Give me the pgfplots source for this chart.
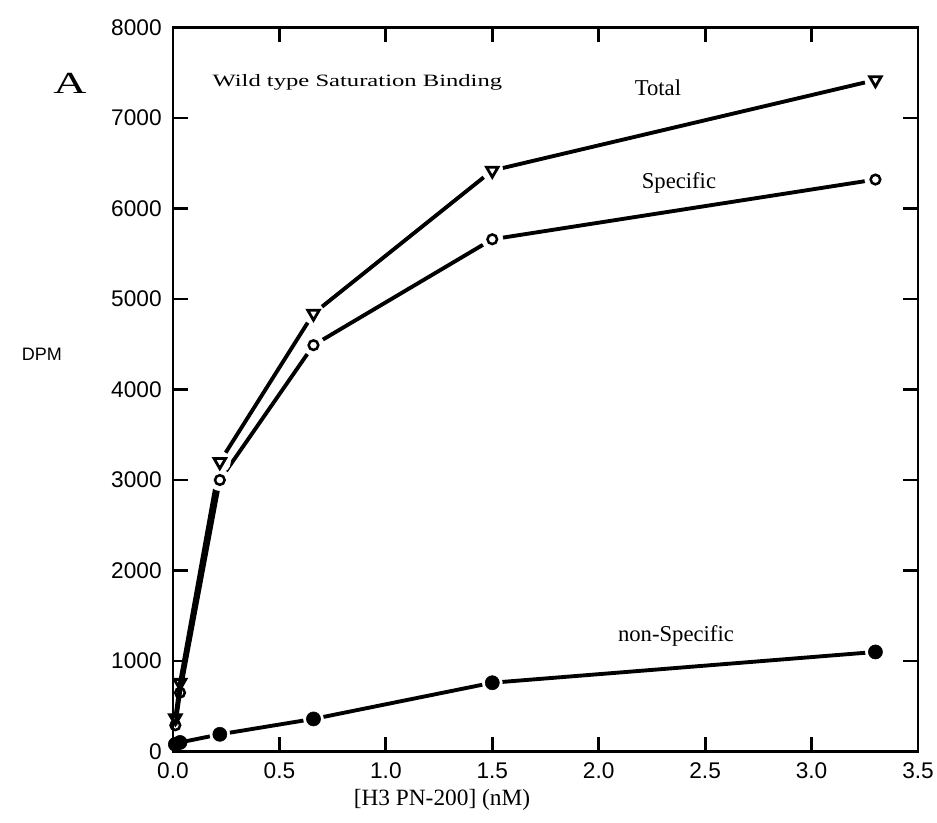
\documentclass[border=0pt]{standalone}
\usepackage{fontspec}
\setmainfont{Liberation Serif}
\setsansfont{Liberation Sans}
\newfontfamily\widefont[FakeStretch=1.42]{Liberation Serif}
\newfontfamily\widerfont[FakeStretch=1.5]{Liberation Serif}
\usepackage{pgfplots}
\pgfplotsset{compat=1.18}

\begin{document}
\begin{tikzpicture}
\useasboundingbox (-129.75pt,-52.875pt) rectangle (573pt,563.625pt);
\begin{axis}[
    at={(0pt,0pt)}, anchor=south west,
    scale only axis, width=558.75pt, height=543pt,
    xmin=0, xmax=3.5, ymin=0, ymax=8000,
    xtick={0,0.5,1,1.5,2,2.5,3,3.5},
    ytick={0,1000,2000,3000,4000,5000,6000,7000,8000},
    scaled y ticks=false,
    tick align=inside,
    major tick length=11pt,
    axis line style={line width=2.2pt},
    every tick/.style={black, line width=2.2pt},
    /pgf/number format/assume math mode=true,
    tick label style={font=\sffamily\fontsize{17}{17}\selectfont},
    x tick label style={/pgf/number format/.cd, fixed, fixed zerofill, precision=1, /tikz/.cd, yshift=-5pt},
    y tick label style={/pgf/number format/.cd, set thousands separator={}, /tikz/.cd, xshift=-5pt},
    xlabel={[H3 PN-200] (nM)},
    xlabel style={at={(rel axis cs:0.361,0)}, anchor=center, yshift=-36.4pt, font=\fontsize{17.5}{17.5}\selectfont},
    clip=false,
]
% non-specific
\addplot[line width=2.9pt, mark=none] coordinates {(0.011,80)(0.033,100)(0.22,190)(0.66,360)(1.5,760)(3.3,1100)};
\addplot[only marks, mark=*, mark size=7.5pt, white] coordinates {(0.22,190)(0.66,360)(1.5,760)(3.3,1100)};
\addplot[only marks, mark=*, mark size=5.3pt, black] coordinates {(0.011,80)(0.033,100)(0.22,190)(0.66,360)(1.5,760)(3.3,1100)};
% specific
\addplot[line width=2.9pt, mark=none] coordinates {(0.011,290)(0.033,650)(0.22,3000)(0.66,4490)(1.5,5660)(3.3,6320)};
\addplot[only marks, mark=*, mark size=8pt, white] coordinates {(0.22,3000)(0.66,4490)(1.5,5660)(3.3,6320)};
\addplot[only marks, mark=o, mark size=3.6pt, mark options={line width=1.9pt, fill=white, draw=black}] coordinates {(0.011,290)(0.033,650)(0.22,3000)(0.66,4490)(1.5,5660)(3.3,6320)};
% total
\addplot[line width=2.9pt, mark=none] coordinates {(0.011,370)(0.033,760)(0.22,3200)(0.66,4840)(1.5,6420)(3.3,7420)};
\addplot[only marks, mark=*, mark size=8pt, white] coordinates {(0.22,3200)(0.66,4840)(1.5,6420)(3.3,7420)};
\addplot[only marks, mark=triangle, mark size=5pt, mark options={rotate=180, line width=2.1pt, fill=white, draw=black}] coordinates {(0.011,370)(0.033,760)(0.22,3200)(0.66,4840)(1.5,6420)(3.3,7420)};

\node[anchor=west, font=\widefont\fontsize{13}{13}\selectfont] at (axis cs:0.164,7398) {Wild type Saturation Binding};
\node[font=\fontsize{17}{17}\selectfont] at (axis cs:2.278,7332) {Total};
\node[font=\fontsize{17}{17}\selectfont] at (axis cs:2.377,6282) {Specific};
\node[font=\fontsize{17}{17}\selectfont] at (axis cs:2.363,1276) {non-Specific};
\node[font=\widerfont\fontsize{23}{23}\selectfont, xshift=-77.25pt] at (rel axis cs:0,0.923) {A};
\node[font=\sffamily\fontsize{13.5}{13.5}\selectfont, xshift=-98.25pt] at (rel axis cs:0,0.548) {DPM};
\end{axis}
\end{tikzpicture}
\end{document}
